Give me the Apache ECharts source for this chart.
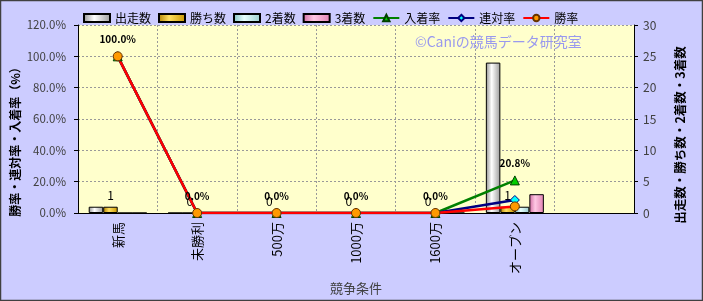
<!DOCTYPE html>
<html><head><meta charset="utf-8">
<script src="https://cdn.jsdelivr.net/npm/echarts@6/dist/echarts.min.js"></script>
<style>html,body{margin:0;padding:0;background:#ccccff;}#c{width:703px;height:301px;}</style>
</head><body><div id="c"></div>
<script>
const categories = ['新馬','未勝利','500万','1000万','1600万','オープン',''];
const runs    = [1,0,0,0,0,24,null];
const wins    = [1,0,0,0,0,1,null];
const seconds = [0,0,0,0,0,1,null];
const thirds  = [0,0,0,0,0,3,null];
const placeRate  = [100,0,0,0,0,20.8,null];
const rentaiRate = [100,0,0,0,0,8.3,null];
const winRate    = [100,0,0,0,0,4.2,null];
const leftTicks = {min:0,max:120,interval:20};
const rightTicks = {min:0,max:30,interval:5};
const leftName = '勝率・連対率・入着率（%）';
const rightName = '出走数・勝ち数・2着数・3着数';

const FONT = '"Noto Sans CJK JP", sans-serif';
function grad(a,b,c){return {type:'linear',x:0,y:0,x2:1,y2:0,colorStops:[{offset:0,color:a},{offset:0.4,color:b},{offset:1,color:c}]};}
const chart = echarts.init(document.getElementById('c'));
const barCommon = {type:'bar', yAxisIndex:1, barWidth:14.5, barGap:'0%'};
const gridLine = {color:'#999',type:[2,2],width:1};
chart.setOption({
  backgroundColor:'#ccccff',
  textStyle:{fontFamily:FONT},
  animation:false,
  graphic:[
    {type:'rect',shape:{x:0.5,y:0.5,width:702,height:300},style:{fill:'none',stroke:'#404040',lineWidth:1.5},z:100},
    {type:'text',left:415,top:35,style:{text:'©Caniの競馬データ研究室',fill:'#9999ee',font:'14px '+FONT},z:100},
    {type:'text',x:15,y:139,rotation:Math.PI/2,style:{text:leftName,fill:'#000',font:'bold 12px '+FONT,align:'center',verticalAlign:'middle'},z:100},
    {type:'text',x:680,y:135,rotation:Math.PI/2,style:{text:rightName,fill:'#000',font:'bold 12.5px '+FONT,align:'center',verticalAlign:'middle'},z:100}
  ],
  legend:{
    left:78, top:7, itemWidth:26, itemHeight:8, itemGap:7,
    textStyle:{fontSize:12,color:'#000',fontFamily:FONT},
    data:[{name:'出走数',icon:'rect'},{name:'勝ち数',icon:'rect'},{name:'2着数',icon:'rect'},{name:'3着数',icon:'rect'},'入着率','連対率','勝率']
  },
  grid:{left:78,right:69,top:25,bottom:88,show:true,backgroundColor:'#ffffcc',borderWidth:0,outerBoundsMode:'none',containLabel:false},
  xAxis:{
    type:'category', data:categories, boundaryGap:true,
    axisLine:{lineStyle:{color:'#000'}},
    axisTick:{show:false},
    axisLabel:{rotate:90,margin:9,fontSize:13,color:'#000',interval:0},
    splitLine:{show:true,interval:0,lineStyle:gridLine},
    name:'競争条件', nameLocation:'middle', nameGap:66,
    nameTextStyle:{fontSize:13,color:'#404040'}
  },
  yAxis:[
    {type:'value', min:leftTicks.min, max:leftTicks.max, interval:leftTicks.interval, position:'left',
     axisLine:{show:true,lineStyle:{color:'#000'}},
     axisTick:{show:true,length:4,lineStyle:{color:'#000'}},
     axisLabel:{formatter:v=>v.toFixed(1)+'%',color:'#404040',fontSize:11.5,margin:12},
     splitLine:{show:true,lineStyle:gridLine}},
    {type:'value', min:rightTicks.min, max:rightTicks.max, interval:rightTicks.interval, position:'right',
     axisLine:{show:true,lineStyle:{color:'#000'}},
     axisTick:{show:true,length:4,lineStyle:{color:'#000'}},
     axisLabel:{color:'#404040',fontSize:12,margin:9},
     splitLine:{show:false}}
  ],
  series:[
    Object.assign({name:'出走数',data:runs,itemStyle:{color:grad('#909090','#ffffff','#9a9a9a'),borderColor:'#000',borderWidth:1}},barCommon),
    Object.assign({name:'勝ち数',data:wins,itemStyle:{color:grad('#b08000','#ffe060','#c89600'),borderColor:'#000',borderWidth:1},
      label:{show:true,position:'top',distance:5,fontSize:12,color:'#000'}},barCommon),
    Object.assign({name:'2着数',data:seconds,itemStyle:{color:grad('#80c0c0','#e8ffff','#99cccc'),borderColor:'#000',borderWidth:1}},barCommon),
    Object.assign({name:'3着数',data:thirds,itemStyle:{color:grad('#d06aa0','#ffc8e4','#e080b0'),borderColor:'#000',borderWidth:1}},barCommon),
    {name:'入着率',type:'line',yAxisIndex:0,data:placeRate,symbol:'triangle',symbolSize:9,
     lineStyle:{color:'#008000',width:2.5},itemStyle:{color:'#00cc00',borderColor:'#004000',borderWidth:1},
     label:{show:true,position:'top',distance:7,fontSize:10,fontWeight:'bold',color:'#000',formatter:p=>p.value.toFixed(1)+'%'}},
    {name:'連対率',type:'line',yAxisIndex:0,data:rentaiRate,symbol:'diamond',symbolSize:9,
     lineStyle:{color:'#000080',width:2.5},itemStyle:{color:'#00ffff',borderColor:'#000080',borderWidth:1}},
    {name:'勝率',type:'line',yAxisIndex:0,data:winRate,symbol:'circle',symbolSize:9,
     lineStyle:{color:'#ff0000',width:2.5},itemStyle:{color:'#ff9900',borderColor:'#663300',borderWidth:1}}
  ]
});
</script></body></html>
